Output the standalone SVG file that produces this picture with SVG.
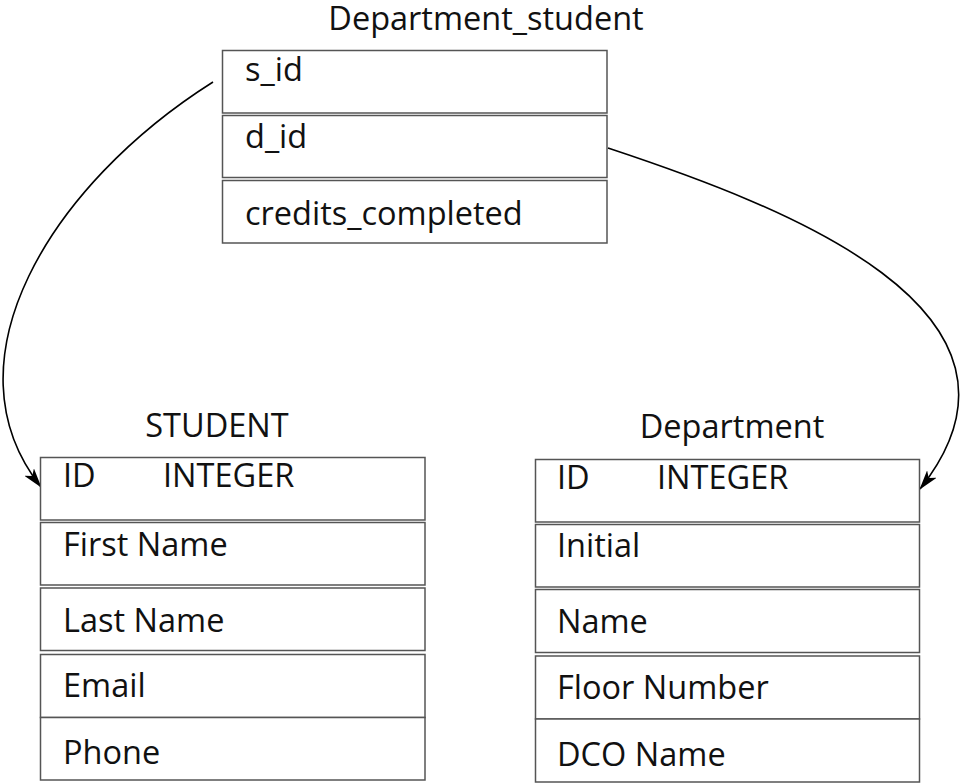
<svg xmlns="http://www.w3.org/2000/svg" width="960" height="783" viewBox="0 0 960 783">
<style>
  .box { fill: #ffffff; stroke: #555555; stroke-width: 1.5; }
  .t { font-family: "Open Sans", "Liberation Sans", sans-serif; font-size: 32.5px; fill: #111111; }
  .title { text-anchor: middle; }
  .conn { fill: none; stroke: #000000; stroke-width: 1.6; }
</style>
<defs>
  <marker id="arrow" viewBox="0 0 20 12" refX="19" refY="6" markerWidth="20" markerHeight="12" markerUnits="userSpaceOnUse" orient="auto">
    <path d="M0,0 L20,6 L0,12 L5,6 Z" fill="#000000"/>
  </marker>
</defs>
<rect width="960" height="783" fill="#ffffff"/>

<g id="connectors">
  <path class="conn" d="M213,82 C 50,185 -58,362 41,487" marker-end="url(#arrow)"/>
  <path class="conn" d="M608,148 C 780,205 1062,310 920,489" marker-end="url(#arrow)"/>
</g>

<g id="department_student">
  <text class="t title" x="486" y="30">Department_student</text>
  <rect class="box" x="222.5" y="50.5" width="384.5" height="62.5"/>
  <rect class="box" x="222.5" y="115.5" width="384.5" height="62"/>
  <rect class="box" x="222.5" y="180.5" width="384.5" height="62.5"/>
  <text class="t" x="245" y="81">s_id</text>
  <text class="t" x="245" y="148">d_id</text>
  <text class="t" x="245" y="225">credits_completed</text>
</g>

<g id="student">
  <text class="t title" x="217" y="437">STUDENT</text>
  <rect class="box" x="40.5" y="457.5" width="384.5" height="62.5"/>
  <rect class="box" x="40.5" y="522.5" width="384.5" height="62.5"/>
  <rect class="box" x="40.5" y="588" width="384.5" height="62.5"/>
  <rect class="box" x="40.5" y="654.5" width="384.5" height="63"/>
  <rect class="box" x="40.5" y="717.5" width="384.5" height="62.5"/>
  <text class="t" x="63" y="487">ID</text>
  <text class="t" x="163" y="487">INTEGER</text>
  <text class="t" x="63" y="556">First Name</text>
  <text class="t" x="63" y="632">Last Name</text>
  <text class="t" x="63" y="697">Email</text>
  <text class="t" x="63" y="764">Phone</text>
</g>

<g id="department">
  <text class="t title" x="732" y="438">Department</text>
  <rect class="box" x="535.5" y="459.5" width="384" height="62.5"/>
  <rect class="box" x="535.5" y="524.5" width="384" height="62.5"/>
  <rect class="box" x="535.5" y="589.5" width="384" height="63"/>
  <rect class="box" x="535.5" y="656" width="384" height="63"/>
  <rect class="box" x="535.5" y="719" width="384" height="63"/>
  <text class="t" x="557" y="489">ID</text>
  <text class="t" x="657" y="489">INTEGER</text>
  <text class="t" x="557" y="557">Initial</text>
  <text class="t" x="557" y="633">Name</text>
  <text class="t" x="557" y="699">Floor Number</text>
  <text class="t" x="557" y="766">DCO Name</text>
</g>
</svg>
